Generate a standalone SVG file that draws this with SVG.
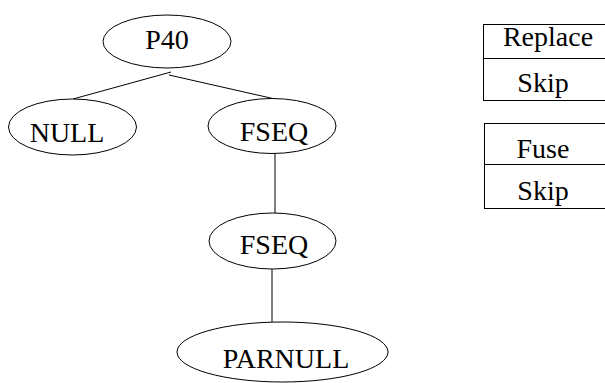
<svg xmlns="http://www.w3.org/2000/svg" width="605" height="383" viewBox="0 0 605 383">
<style>
.n{fill:#fff;stroke:#000;stroke-width:1}
.t{font-family:"Liberation Serif","Times New Roman",serif;font-size:28px;fill:#000;text-anchor:middle}
.c{stroke:#000;stroke-width:1;fill:none}
.b{fill:#fff;stroke:#000;stroke-width:1}
</style>
<rect width="605" height="383" fill="#fff"/>
<g id="connectors">
<line class="c" x1="171" y1="72" x2="73" y2="99"/>
<line class="c" x1="169" y1="75" x2="275" y2="99"/>
<line class="c" x1="275" y1="154" x2="275" y2="213"/>
<line class="c" x1="272" y1="269" x2="272" y2="322"/>
</g>
<g id="P40"><ellipse class="n" cx="167" cy="41.5" rx="64" ry="26.5"/><text class="t" x="167" y="49">P40</text></g>
<g id="NULL"><ellipse class="n" cx="72.5" cy="127" rx="64" ry="28"/><text class="t" x="67" y="142">NULL</text></g>
<g id="FSEQ1"><ellipse class="n" cx="272" cy="126" rx="64" ry="27.5"/><text class="t" x="274" y="141">FSEQ</text></g>
<g id="FSEQ2"><ellipse class="n" cx="272.5" cy="241" rx="63.5" ry="28"/><text class="t" x="274" y="254">FSEQ</text></g>
<g id="PARNULL"><ellipse class="n" cx="282.5" cy="352" rx="105.5" ry="30"/><text class="t" x="286" y="368">PARNULL</text></g>
<g id="box1">
<rect class="b" x="483.5" y="24.5" width="130" height="76"/>
<line class="c" x1="483.5" y1="58.5" x2="610" y2="58.5"/>
<text class="t" x="548" y="46">Replace</text>
<text class="t" x="543" y="92">Skip</text>
</g>
<g id="box2">
<rect class="b" x="484.5" y="123.5" width="130" height="85"/>
<line class="c" x1="484.5" y1="164.5" x2="610" y2="164.5"/>
<text class="t" x="543" y="158">Fuse</text>
<text class="t" x="543" y="200">Skip</text>
</g>
</svg>
